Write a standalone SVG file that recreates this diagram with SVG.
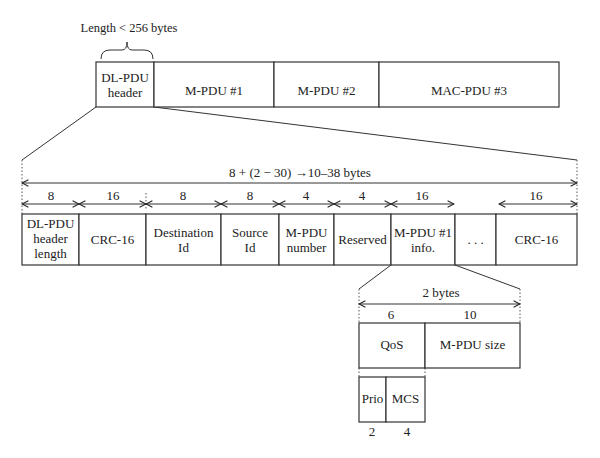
<svg xmlns="http://www.w3.org/2000/svg" width="600" height="458" viewBox="0 0 600 458">
<defs>
<marker id="ah" viewBox="0 0 10 10" refX="9" refY="5" markerWidth="8" markerHeight="8" markerUnits="userSpaceOnUse" orient="auto-start-reverse">
<path d="M1,1 L9,5 L1,9" fill="none" stroke="#222" stroke-width="1.3"/>
</marker>
</defs>
<style>
text{font-family:"Liberation Serif","Times New Roman",serif;font-size:13px;fill:#222;text-anchor:middle}
.sm{font-size:12.5px}
.box{fill:#fff;stroke:#333;stroke-width:1.2}
.ln{stroke:#333;stroke-width:1;fill:none}
.dot{stroke:#555;stroke-width:1;stroke-dasharray:1.5 2;fill:none}
.arr{stroke:#333;stroke-width:1;fill:none;marker-start:url(#ah);marker-end:url(#ah)}
</style>
<rect width="600" height="458" fill="#fff"/>

<g id="connectors">
<line class="ln" x1="96" y1="107" x2="22" y2="160"/>
<line class="ln" x1="154" y1="107" x2="577" y2="160"/>
<line class="ln" x1="391" y1="265" x2="359" y2="289"/>
<line class="ln" x1="455" y1="265" x2="520" y2="289"/>
<line class="dot" x1="22" y1="160" x2="22" y2="214"/>
<line class="dot" x1="577" y1="160" x2="577" y2="214"/>
<line class="dot" x1="146" y1="193" x2="146" y2="210"/>
<line class="dot" x1="359" y1="289" x2="359" y2="323"/>
<line class="dot" x1="520" y1="289" x2="520" y2="323"/>
<line class="dot" x1="425" y1="368" x2="425" y2="377"/>
<line class="dot" x1="359" y1="368" x2="359" y2="377"/>
<path class="ln" d="M101,59 Q101,50 110,50 L122,50 Q127,50 127,42 Q127,50 132,50 L144,50 Q153,50 153,59"/>
<line class="arr" x1="22" y1="183" x2="577" y2="183"/>
<line class="arr" x1="22" y1="204" x2="79" y2="204"/>
<line class="arr" x1="79" y1="204" x2="146" y2="204"/>
<line class="arr" x1="146" y1="204" x2="221" y2="204"/>
<line class="arr" x1="221" y1="204" x2="279" y2="204"/>
<line class="arr" x1="279" y1="204" x2="334" y2="204"/>
<line class="arr" x1="334" y1="204" x2="391" y2="204"/>
<line class="arr" x1="391" y1="204" x2="454" y2="204"/>
<line class="arr" x1="499" y1="204" x2="577" y2="204"/>
<line class="arr" x1="359" y1="304" x2="520" y2="304"/>
</g>

<g id="labels">
<text class="sm" x="129" y="32">Length &lt; 256 bytes</text>
<text x="300" y="177">8 + (2 − 30) →10–38 bytes</text>
<text x="51" y="200">8</text>
<text x="113" y="200">16</text>
<text x="183" y="200">8</text>
<text x="250" y="200">8</text>
<text x="306" y="200">4</text>
<text x="362" y="200">4</text>
<text x="422" y="200">16</text>
<text x="536" y="200">16</text>
<text x="441" y="297">2 bytes</text>
<text x="391" y="319">6</text>
<text x="470" y="319">10</text>
<text x="372" y="436">2</text>
<text x="407" y="436">4</text>
</g>

<g id="top-header"><rect class="box" x="96" y="62" width="58" height="45"/><text x="125" y="82">DL-PDU</text><text x="125" y="97">header</text></g>
<g id="top-mpdu1"><rect class="box" x="154" y="62" width="120" height="45"/><text x="214" y="95">M-PDU #1</text></g>
<g id="top-mpdu2"><rect class="box" x="274" y="62" width="105" height="45"/><text x="326.5" y="95">M-PDU #2</text></g>
<g id="top-mac3"><rect class="box" x="379" y="62" width="180" height="45"/><text x="469" y="95">MAC-PDU #3</text></g>

<g id="f-hdrlen"><rect class="box" x="22" y="214" width="57" height="51"/><text x="50.5" y="228">DL-PDU</text><text x="50.5" y="243">header</text><text x="50.5" y="258">length</text></g>
<g id="f-crc1"><rect class="box" x="79" y="214" width="67" height="51"/><text x="112.5" y="244">CRC-16</text></g>
<g id="f-dest"><rect class="box" x="146" y="214" width="75" height="51"/><text x="183.5" y="237">Destination</text><text x="183.5" y="252">Id</text></g>
<g id="f-src"><rect class="box" x="221" y="214" width="58" height="51"/><text x="250" y="237">Source</text><text x="250" y="252">Id</text></g>
<g id="f-mnum"><rect class="box" x="279" y="214" width="55" height="51"/><text x="306.5" y="237">M-PDU</text><text x="306.5" y="252">number</text></g>
<g id="f-res"><rect class="box" x="334" y="214" width="57" height="51"/><text x="362.5" y="244">Reserved</text></g>
<g id="f-minfo"><rect class="box" x="391" y="214" width="64" height="51"/><text x="423" y="237">M-PDU #1</text><text x="423" y="252">info.</text></g>
<g id="f-dots"><rect class="box" x="455" y="214" width="41" height="51"/><text x="475.5" y="244">. . .</text></g>
<g id="f-crc2"><rect class="box" x="496" y="214" width="81" height="51"/><text x="536.5" y="244">CRC-16</text></g>

<g id="qos"><rect class="box" x="359" y="323" width="66" height="45"/><text x="392" y="349">QoS</text></g>
<g id="mpdusize"><rect class="box" x="425" y="323" width="95" height="45"/><text x="472.5" y="349">M-PDU size</text></g>
<g id="prio"><rect class="box" x="359" y="377" width="27" height="45"/><text x="372.5" y="403">Prio</text></g>
<g id="mcs"><rect class="box" x="386" y="377" width="39" height="45"/><text x="405.5" y="403">MCS</text></g>
</svg>
